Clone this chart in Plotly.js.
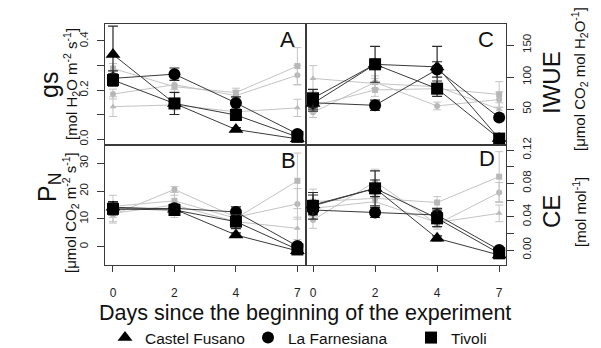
<!DOCTYPE html>
<html>
<head>
<meta charset="utf-8">
<script src="https://cdn.plot.ly/plotly-3.0.1.min.js"></script>
<style>html,body{margin:0;padding:0;background:#fff;}#chart{width:601px;height:348px;}</style>
</head>
<body>
<div id="chart"></div>
<script>
// ---- data ----
const days = ['0', '2', '4', '7'];
const sites = ['Castel Fusano', 'La Farnesiana', 'Tivoli'];

// gs (panel A)
const gsCF = [0.345, 0.146, 0.040, 0.002];
const gsCFerr = [0.115, 0.02, 0.008, 0.005];
const gsLF = [0.248, 0.265, 0.148, 0.022];
const gsLFerr = [0.03, 0.025, 0.025, 0.01];
const gsTV = [0.241, 0.146, 0.099, 0.010];
const gsTVerr = [0.025, 0.045, 0.012, 0.008];
const gsCFc = [0.133, 0.140, 0.112, 0.128];
const gsCFcErr = [0.04, 0.02, 0.015, 0.035];
const gsLFc = [0.184, 0.222, 0.178, 0.261];
const gsLFcErr = [0.02, 0.02, 0.02, 0.04];
const gsTVc = [0.288, 0.214, 0.190, 0.298];
const gsTVcErr = [0.02, 0.025, 0.018, 0.075];

// PN (panel B)
const pnCF = [14.2, 13.5, 4.2, -1.5];
const pnCFerr = [2.0, 1.5, 0.8, 1.0];
const pnLF = [13.5, 13.8, 12.5, 0.2];
const pnLFerr = [1.5, 1.5, 1.8, 1.0];
const pnTV = [13.6, 13.2, 9.0, -1.0];
const pnTVerr = [2.2, 1.8, 2.5, 1.2];
const pnCFc = [12.0, 15.0, 9.0, 6.6];
const pnCFcErr = [3.5, 4.5, 1.5, 4.0];
const pnLFc = [11.5, 20.6, 10.6, 15.4];
const pnLFcErr = [2.5, 1.0, 2.0, 5.5];
const pnTVc = [14.5, 16.5, 10.2, 23.7];
const pnTVcErr = [4.0, 2.0, 2.5, 10.0];

// IWUE (panel C)
const wuCF = [59, 120, 116, 4];
const wuCFerr = [12, 8, 32, 3];
const wuLF = [60, 56, 112, 37];
const wuLFerr = [10, 8, 12, 4];
const wuTV = [67, 120, 82, 4];
const wuTVerr = [14, 28, 12, 3];
const wuCFc = [98, 90, 85, 50];
const wuCFcErr = [20, 8, 6, 10];
const wuLFc = [45, 92, 55, 65];
const wuLFcErr = [8, 10, 6, 12];
const wuTVc = [55, 80, 82, 73];
const wuTVcErr = [10, 10, 8, 20];

// CE (panel D)
const ceCF = [0.054, 0.074, 0.014, -0.006];
const ceCFerr = [0.012, 0.010, 0.003, 0.002];
const ceLF = [0.048, 0.045, 0.042, 0.000];
const ceLFerr = [0.005, 0.006, 0.008, 0.003];
const ceTV = [0.053, 0.074, 0.038, -0.004];
const ceTVerr = [0.016, 0.021, 0.010, 0.003];
const ceCFc = [0.050, 0.058, 0.033, 0.044];
const ceCFcErr = [0.01, 0.01, 0.006, 0.01];
const ceLFc = [0.036, 0.082, 0.031, 0.069];
const ceLFcErr = [0.01, 0.015, 0.006, 0.012];
const ceTVc = [0.058, 0.062, 0.057, 0.088];
const ceTVcErr = [0.015, 0.012, 0.007, 0.03];

// tick labels
const gsTicks = [0, 0.1, 0.2, 0.3, 0.4];
const gsTickText = ['0.0', '', '0.2', '', '0.4'];
const pnTicks = [0, 10, 20, 30];
const pnTickText = ['0', '10', '20', '30'];
const wuTicks = [50, 100, 150];
const wuTickText = ['50', '100', '150'];
const ceTicks = [0, 0.02, 0.04, 0.06, 0.08, 0.10, 0.12];
const ceTickText = ['0.00', '', '0.04', '', '0.08', '', '0.12'];

// ---- styling ----
const FONT = 'Liberation Sans, Arial, sans-serif';
const symbols = ['triangle-up', 'circle', 'square'];
const blackSizes = [13, 12, 12];
const legendIds = ['legend', 'legend2', 'legend3'];

const panels = [
  {xa: 'x', ya: 'y', black: [gsCF, gsLF, gsTV], berr: [gsCFerr, gsLFerr, gsTVerr],
   grey: [gsCFc, gsLFc, gsTVc], gerr: [gsCFcErr, gsLFcErr, gsTVcErr]},
  {xa: 'x2', ya: 'y2', black: [wuCF, wuLF, wuTV], berr: [wuCFerr, wuLFerr, wuTVerr],
   grey: [wuCFc, wuLFc, wuTVc], gerr: [wuCFcErr, wuLFcErr, wuTVcErr]},
  {xa: 'x3', ya: 'y3', black: [pnCF, pnLF, pnTV], berr: [pnCFerr, pnLFerr, pnTVerr],
   grey: [pnCFc, pnLFc, pnTVc], gerr: [pnCFcErr, pnLFcErr, pnTVcErr]},
  {xa: 'x4', ya: 'y4', black: [ceCF, ceLF, ceTV], berr: [ceCFerr, ceLFerr, ceTVerr],
   grey: [ceCFc, ceLFc, ceTVc], gerr: [ceCFcErr, ceLFcErr, ceTVcErr]}
];

const traces = [];
panels.forEach((p, pi) => {
  // grey (control) series
  p.grey.forEach((vals, i) => {
    traces.push({
      x: days, y: vals, xaxis: p.xa, yaxis: p.ya, type: 'scatter', mode: 'lines+markers',
      name: sites[i] + ' (control)', showlegend: false, hoverinfo: 'skip',
      line: {color: '#c4c4c4', width: 1},
      marker: {symbol: symbols[i], size: 6, color: '#b8b8b8'},
      error_y: {type: 'data', array: p.gerr[i], visible: true, color: '#c4c4c4', thickness: 1, width: 4}
    });
  });
  // black lines
  p.black.forEach((vals, i) => {
    traces.push({
      x: days, y: vals, xaxis: p.xa, yaxis: p.ya, type: 'scatter', mode: 'lines',
      name: sites[i], showlegend: false, hoverinfo: 'skip',
      line: {color: '#3a3a3a', width: 1}
    });
  });
  // black markers with error bars
  p.black.forEach((vals, i) => {
    traces.push({
      x: days, y: vals, xaxis: p.xa, yaxis: p.ya, type: 'scatter', mode: 'markers',
      name: sites[i], showlegend: pi === 0, legend: legendIds[i],
      marker: {symbol: symbols[i], size: blackSizes[i], color: '#000'},
      error_y: {type: 'data', array: p.berr[i], visible: true, color: '#2a2a2a', thickness: 1.2, width: 5}
    });
  });
});

const W = 601, H = 348;
const px = v => v / W;
const py = v => 1 - v / H;
const leftDom = [px(105), px(306)];
const rightDom = [px(306), px(506)];
const topDom = [py(145), py(24)];
const botDom = [py(265), py(145)];

const baseX = {
  type: 'category', showgrid: false, zeroline: false, showline: true, mirror: true,
  linecolor: '#3a3a3a', linewidth: 1.3, fixedrange: true,
  tickfont: {family: FONT, size: 12, color: '#222'}
};
const baseY = {
  showgrid: false, zeroline: false, showline: true, mirror: true,
  linecolor: '#3a3a3a', linewidth: 1.3, ticks: 'outside', ticklen: 7, tickcolor: '#3a3a3a',
  tickangle: -90, tickfont: {family: FONT, size: 11.5, color: '#222'}, fixedrange: true
};
const leftRange = [-0.13, 3.14];
const rightRange = [-0.113, 3.11];

const noTicksX = {showticklabels: false, ticks: ''};
const bottomTicksX = {ticks: 'outside', ticklen: 6, tickcolor: '#3a3a3a', tickvals: days, ticktext: days, ticklabelstandoff: 10};

const legendBase = {orientation: 'h', yanchor: 'middle', xanchor: 'left', y: py(338),
  font: {family: FONT, size: 15.5, color: '#111'}, bgcolor: 'rgba(0,0,0,0)', borderwidth: 0};

const layout = {
  width: W, height: H, margin: {l: 0, r: 0, t: 0, b: 0, autoexpand: false},
  paper_bgcolor: '#fff', plot_bgcolor: '#fff',
  font: {family: FONT, color: '#111'},
  xaxis: Object.assign({}, baseX, noTicksX, {domain: leftDom, range: leftRange, anchor: 'y'}),
  xaxis2: Object.assign({}, baseX, noTicksX, {domain: rightDom, range: rightRange, anchor: 'y2'}),
  xaxis3: Object.assign({}, baseX, bottomTicksX, {domain: leftDom, range: leftRange, anchor: 'y3'}),
  xaxis4: Object.assign({}, baseX, bottomTicksX, {domain: rightDom, range: rightRange, anchor: 'y4'}),
  yaxis: Object.assign({}, baseY, {domain: topDom, range: [-0.023, 0.469], anchor: 'x', side: 'left',
    tickvals: gsTicks, ticktext: gsTickText, ticklabelstandoff: 4}),
  yaxis2: Object.assign({}, baseY, {domain: topDom, range: [-6, 183], anchor: 'x2', side: 'right',
    tickvals: wuTicks, ticktext: wuTickText, ticklabelstandoff: 3}),
  yaxis3: Object.assign({}, baseY, {domain: botDom, range: [-6.6, 36.6], anchor: 'x3', side: 'left',
    tickvals: pnTicks, ticktext: pnTickText, ticklabelstandoff: 4}),
  yaxis4: Object.assign({}, baseY, {domain: botDom, range: [-0.018, 0.126], anchor: 'x4', side: 'right',
    tickvals: ceTicks, ticktext: ceTickText, ticklabelstandoff: 3}),
  legend: Object.assign({}, legendBase, {x: px(105)}),
  legend2: Object.assign({}, legendBase, {x: px(248)}),
  legend3: Object.assign({}, legendBase, {x: px(411)}),
  showlegend: true,
  annotations: [
    {text: 'A', x: px(287), y: py(40)},
    {text: 'B', x: px(288), y: py(160)},
    {text: 'C', x: px(486), y: py(40)},
    {text: 'D', x: px(487), y: py(158)}
  ].map(a => Object.assign({xref: 'paper', yref: 'paper', showarrow: false, xanchor: 'center', yanchor: 'middle',
    font: {family: FONT, size: 22, color: '#111'}}, a)).concat([
    {text: 'gs', x: px(49), y: py(85), size: 25},
    {text: 'P<sub>N</sub>', x: px(49), y: py(188), size: 25},
    {text: '[mol H<sub>2</sub>O m<sup>-2</sup> s<sup>-1</sup>]', x: px(71), y: py(84), size: 15},
    {text: '[μmol CO<sub>2</sub> m<sup>-2</sup> s<sup>-1</sup>]', x: px(71), y: py(213), size: 15},
    {text: 'IWUE', x: px(551), y: py(83), size: 24},
    {text: 'CE', x: px(551), y: py(212), size: 24},
    {text: '[μmol CO<sub>2</sub> mol H<sub>2</sub>O<sup>-1</sup>]', x: px(579), y: py(79), size: 15},
    {text: '[mol mol<sup>-1</sup>]', x: px(579), y: py(212), size: 15}
  ].map(a => ({xref: 'paper', yref: 'paper', showarrow: false, xanchor: 'center', yanchor: 'middle',
    textangle: -90, text: a.text, x: a.x, y: a.y, font: {family: FONT, size: a.size, color: '#111'}}))).concat([
    {xref: 'paper', yref: 'paper', showarrow: false, xanchor: 'center', yanchor: 'middle',
     text: 'Days since the beginning of the experiment', x: px(305), y: py(313),
     font: {family: FONT, size: 21.5, color: '#111'}}
  ])
};

Plotly.newPlot('chart', traces, layout, {displayModeBar: false, staticPlot: true});
</script>
</body>
</html>
